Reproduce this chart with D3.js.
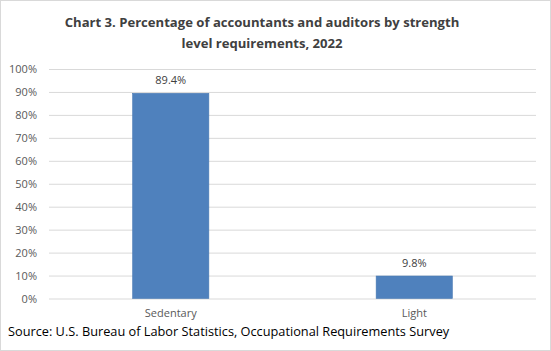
<!DOCTYPE html>
<html>
<head>
<meta charset="utf-8">
<script src="https://cdn.jsdelivr.net/npm/d3@7"></script>
<style>
  body { margin: 0; background: #fff; }
  svg { display: block; font-family: "Open Sans", "Noto Sans", sans-serif; }
</style>
</head>
<body>
<svg id="vis"></svg>
<script>
// chart size
const width = 551;
const height = 351;

// plot area measured from the gridlines (100% at y=69, 0% at y=298.5)
const margin = {top: 69, left: 49, right: 15, bottom: 52.5};

// data
const categories = ["Sedentary", "Light"];
const values = [89.4, 9.8];
const tickValues = [0, 10, 20, 30, 40, 50, 60, 70, 80, 90, 100];
const titleLines = ["Chart 3. Percentage of accountants and auditors by strength",
    "level requirements, 2022"];
const sourceText = "Source: U.S. Bureau of Labor Statistics, Occupational Requirements Survey";

const xScale = d3.scaleBand()
    .domain(categories)
    .range([margin.left, width - margin.right])
    .paddingInner(0.687)
    .paddingOuter(0.3435);

const yScale = d3.scaleLinear()
    .domain([0, 100])
    .range([height - margin.bottom, margin.top]);

const svg = d3.select("#vis")
    .attr("width", width)
    .attr("height", height);

// light frame round the whole chart
svg.append("rect")
    .attr("x", 0.5).attr("y", 0.5)
    .attr("width", width - 1).attr("height", height - 1)
    .attr("fill", "#fff")
    .attr("stroke", "#d9d9d9");

// title
svg.append("text")
    .attr("text-anchor", "middle")
    .attr("font-size", 13.1)
    .attr("font-weight", "bold")
    .attr("fill", "#404040")
    .selectAll("tspan")
    .data(titleLines)
    .join("tspan")
    .attr("x", 262)
    .attr("y", (d, i) => 27 + i * 20.5)
    .text(d => d);

// y axis: gridlines and tick labels
const yAxis = d3.axisLeft(yScale)
    .tickValues(tickValues)
    .tickSize(-(width - margin.right - margin.left))
    .tickPadding(12)
    .tickFormat(d => d + "%");

const gy = svg.append("g")
    .attr("transform", "translate(" + margin.left + ",0)")
    .call(yAxis);
gy.select(".domain").remove();
gy.selectAll(".tick line").attr("stroke", "#d9d9d9");
gy.selectAll(".tick text")
    .attr("font-size", 11)
    .attr("fill", "#595959")
    .attr("font-family", "Open Sans");

// x axis labels
const xAxis = d3.axisBottom(xScale).tickSize(0).tickPadding(11);
const gx = svg.append("g")
    .attr("transform", "translate(0," + yScale(0) + ")")
    .call(xAxis);
gx.select(".domain").remove();
gx.selectAll(".tick text")
    .attr("font-size", 11)
    .attr("fill", "#595959")
    .attr("font-family", "Open Sans");

// bars
svg.selectAll(".bar")
    .data(values)
    .join("rect")
    .attr("class", "bar")
    .attr("x", (d, i) => xScale(categories[i]))
    .attr("y", d => yScale(d))
    .attr("width", xScale.bandwidth())
    .attr("height", d => yScale(0) - yScale(d))
    .attr("fill", "#4f81bd")
    .attr("stroke", "#4a7ab3")
    .attr("stroke-width", 0.6);

// value labels
svg.selectAll(".val")
    .data(values)
    .join("text")
    .attr("class", "val")
    .attr("x", (d, i) => xScale(categories[i]) + xScale.bandwidth() / 2)
    .attr("y", d => yScale(d) - 9)
    .attr("text-anchor", "middle")
    .attr("font-size", 11)
    .attr("fill", "#404040")
    .text(d => d.toFixed(1) + "%");

// source line
svg.append("text")
    .attr("x", 8)
    .attr("y", 336)
    .attr("font-size", 12.75)
    .attr("fill", "#000")
    .text(sourceText);
</script>
</body>
</html>
